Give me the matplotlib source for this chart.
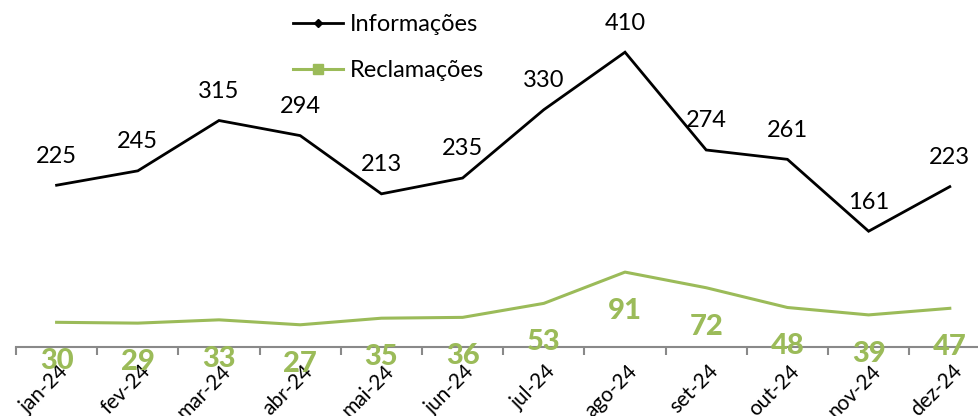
import matplotlib
matplotlib.use("Agg")
import matplotlib.pyplot as plt
from matplotlib.lines import Line2D
import matplotlib.transforms as mtrans
import numpy as np

plt.rcParams['font.family'] = ['Lato', 'DejaVu Sans']

meses = ["jan-24", "fev-24", "mar-24", "abr-24", "mai-24", "jun-24",
         "jul-24", "ago-24", "set-24", "out-24", "nov-24", "dez-24"]
informacoes = [225, 245, 315, 294, 213, 235, 330, 410, 274, 261, 161, 223]
reclamacoes = [30, 29, 33, 27, 35, 36, 53, 91, 72, 48, 39, 47]

preto = "#000000"
verde = "#9BBB59"
cinza = "#898989"

fig = plt.figure(figsize=(9.79, 4.16), dpi=100)
ax = fig.add_axes([16 / 979, 69 / 416, 974.4 / 979, 347 / 416])
ax2 = ax.twinx()

x = np.arange(len(meses))

ax.plot(x, informacoes, color=preto, lw=2, solid_joinstyle='miter')
ax2.plot(x, reclamacoes, color=verde, lw=2.2)

ax.set_xlim(-0.5, 11.5)
ax.set_ylim(0, 482.6)
ax2.set_ylim(0, 421.6)

for xi, v in zip(x, informacoes):
    ax.annotate(str(v), (xi, v), xytext=(0, 21), textcoords='offset points',
                ha='center', va='center', fontsize=17, color=preto)
for xi, v in zip(x, reclamacoes):
    ax2.annotate(str(v), (xi, v), xytext=(0, -28), textcoords='offset points',
                 ha='center', va='center', fontsize=21, fontweight='black',
                 color=verde, zorder=5)

# axis styling
for a in (ax, ax2):
    for s in ('top', 'right', 'left'):
        a.spines[s].set_visible(False)
    a.patch.set_visible(False)
ax2.spines['bottom'].set_visible(False)
ax.spines['bottom'].set_color(cinza)
ax.spines['bottom'].set_linewidth(1.5)
ax.set_yticks([])
ax2.set_yticks([])

ax.set_xticks(x)
ax.set_xticklabels(meses, rotation=45, ha='right', rotation_mode='anchor',
                   fontsize=15)
ax.tick_params(axis='x', which='major', length=0, pad=10)
ax.set_xticks(np.arange(-0.5, 12, 1), minor=True)
ax.tick_params(axis='x', which='minor', length=6, width=1.5, color=cinza)
shift = mtrans.ScaledTranslation(2 / 100, 0, fig.dpi_scale_trans)
for lbl in ax.get_xticklabels():
    lbl.set_transform(lbl.get_transform() + shift)

handles = [
    Line2D([], [], color=preto, lw=2, marker='D', markersize=4),
    Line2D([], [], color=verde, lw=2.2, marker='s', markersize=7),
]
ax.legend(handles, ["Informações", "Reclamações"], loc='upper left',
          bbox_to_anchor=(293 / 979, 1 - 14 / 416), bbox_transform=fig.transFigure,
          frameon=False, fontsize=17, handlelength=2.1, handletextpad=0.3,
          labelspacing=1.05, borderpad=0, borderaxespad=0)

fig.savefig("out.png", dpi=100)
